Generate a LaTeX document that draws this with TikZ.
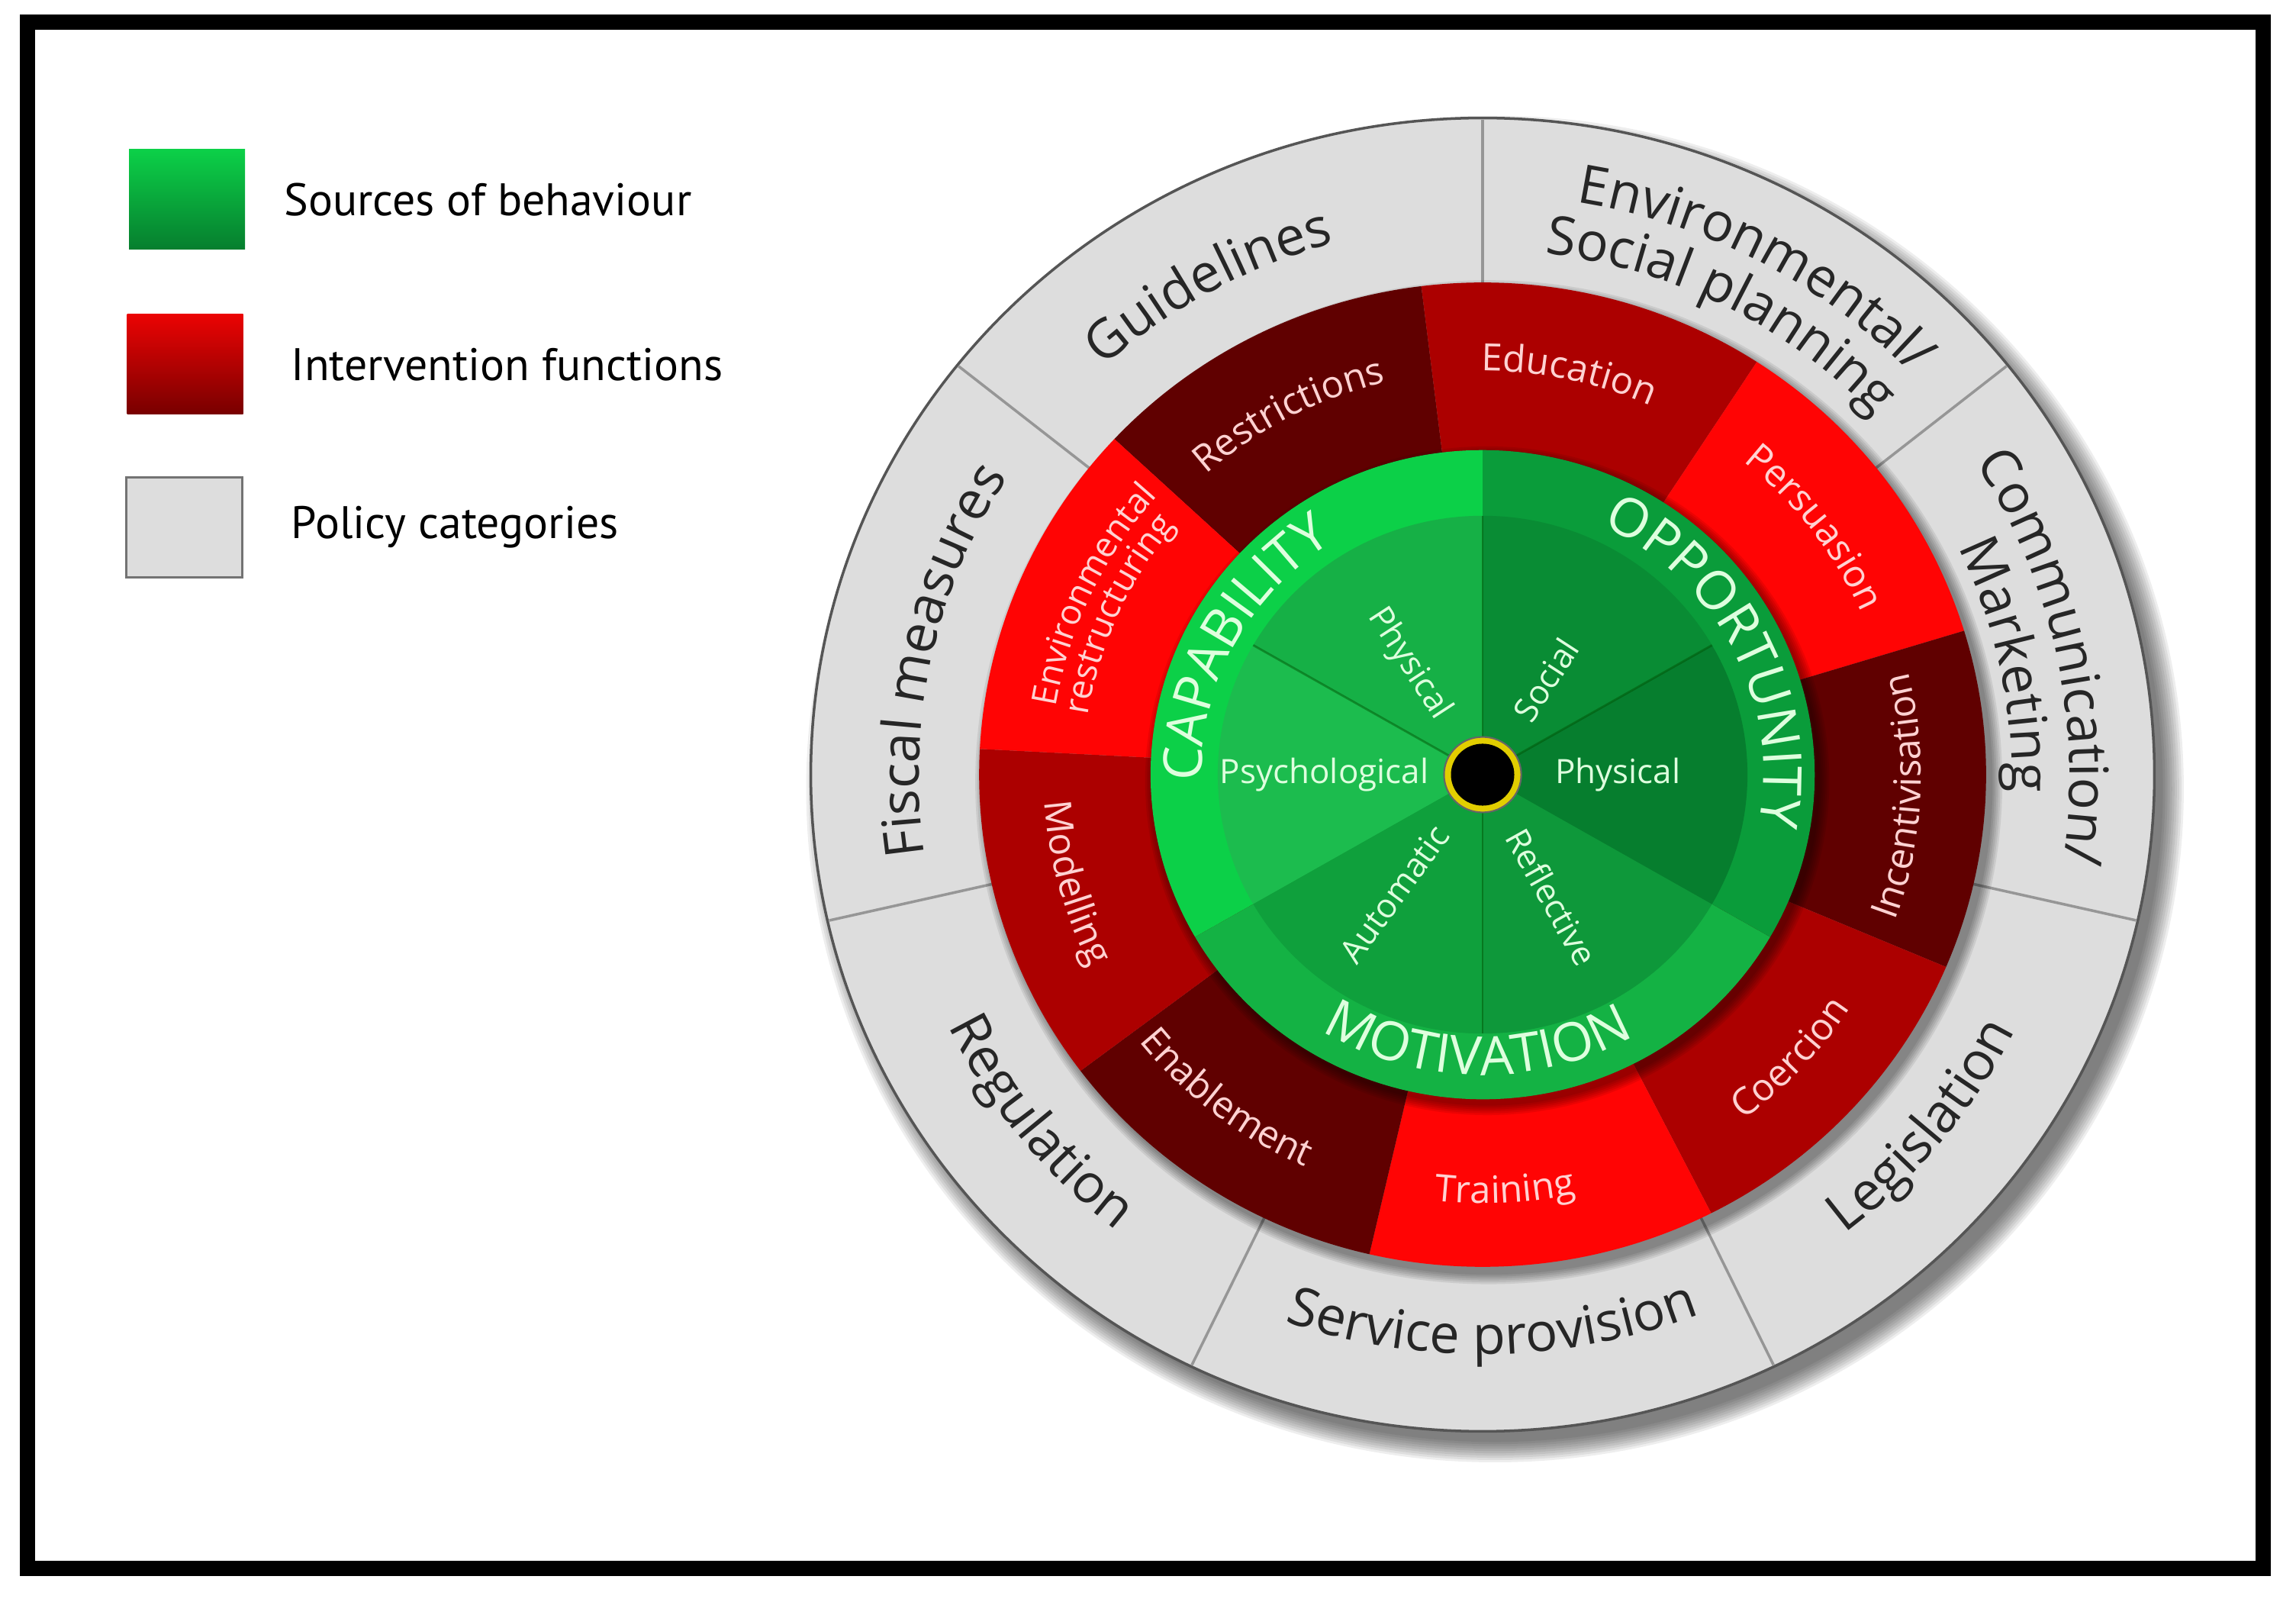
\documentclass[tikz,border=0pt]{standalone}
\usepackage{fontspec}
\setmainfont{Open Sans}
\newfontfamily\legendfamily{PT Sans}
\usetikzlibrary{positioning, decorations.text}
\definecolor{policygrey}{RGB}{221, 221, 221}
\definecolor{policyline}{RGB}{150, 150, 150}
\definecolor{policyrim}{RGB}{85, 85, 85}
\definecolor{policytext}{RGB}{38, 38, 38}
\definecolor{fndark}{RGB}{96, 0, 0}
\definecolor{fnmid}{RGB}{172, 0, 0}
\definecolor{fnbright}{RGB}{255, 4, 4}
\definecolor{fntext}{RGB}{255, 210, 210}
\definecolor{capouter}{RGB}{12, 208, 72}
\definecolor{capphys}{RGB}{22, 176, 70}
\definecolor{cappsych}{RGB}{28, 188, 78}
\definecolor{oppouter}{RGB}{10, 156, 58}
\definecolor{oppsocial}{RGB}{9, 140, 52}
\definecolor{oppphys}{RGB}{6, 126, 46}
\definecolor{motouter}{RGB}{20, 178, 68}
\definecolor{motauto}{RGB}{15, 160, 60}
\definecolor{motrefl}{RGB}{14, 152, 58}
\definecolor{srctext}{RGB}{222, 255, 222}
\definecolor{hubgold}{RGB}{226, 206, 0}
\newcommand{\policysize}{\fontsize{20}{24}\selectfont}
\newcommand{\fnsize}{\fontsize{14}{17}\selectfont}
\newcommand{\fnsmall}{\fontsize{13}{16}\selectfont}
\newcommand{\comsize}{\fontsize{20}{24}\selectfont}

\begin{document}
\begin{tikzpicture}[
      legbox/.style={minimum width=1.52cm, minimum height=1.31cm,
                     inner sep=0pt},
      legtext/.style={font=\legendfamily\fontsize{17}{20}\selectfont,
                      inner sep=0pt},
      policyarc/.style={decorate, decoration={text along path,
                        text align=center, text color=policytext,
                        text={|\policysize|#1}}},
      fnarc/.style={decorate, decoration={text along path,
                    text align=center, text color=fntext,
                    text={|\fnsize|#1}}},
      fnarcsmall/.style={decorate, decoration={text along path,
                         text align=center, text color=fntext,
                         text={|\fnsmall|#1}}},
      comarc/.style={decorate, decoration={text along path,
                     text align=center, text color=srctext,
                     text={|\comsize|#1}}},
      srclbl/.style={font=\fontsize{12.5}{15}\selectfont,
                     text=srctext, inner sep=0pt},
      innerline/.style={draw=black!70!green, opacity=0.45,
                        line width=0.8pt},
  ]
  \useasboundingbox (0,0) rectangle (30.09,20.98);
  \draw[line width=0.2cm] (0.36,0.43) rectangle (29.66,20.69);

  % legend
  \node[legbox, top color=capouter, bottom color=oppphys] (srcbox)
      at (2.45,18.365) {};
  \node[legbox, top color=fnbright!92!black, bottom color=fndark!85!red]
      (fnbox) at (2.425,16.205) {};
  \node[legbox, fill=policygrey, draw=black!55, line width=1pt]
      (polbox) at (2.415,14.07) {};
  \node[legtext, right=0.5cm of srcbox] (srctxt) {Sources of behaviour};
  \node[legtext, right=0.62cm of fnbox] (fntxt) {Intervention functions};
  \node[legtext, right=0.62cm of polbox] (poltxt) {Policy categories};

  \begin{scope}[shift={(19.43,10.83)}, xscale=1.012, yscale=0.989]
    % policy categories
    \foreach \k in {1,...,10}
      \fill[black, opacity=0.065] (0.16,-0.19) circle ({8.62+0.03*\k});
    \draw[policyrim, line width=1pt, fill=policygrey] (0,0) circle (8.7);
    \foreach \a in {0,...,6}
      \draw[policyline, line width=1pt] ({90+51.43*\a}:6.4)
          -- ({90+51.43*\a}:8.68);

    % intervention functions
    \foreach \k in {1,...,6}
      \fill[black, opacity=0.08] (0.08,-0.1) circle ({6.50+0.025*\k});
    \foreach \a/\col in {97/fndark, 57/fnmid, 17/fnbright,
                         -23/fndark, -63/fnmid, -103/fnbright,
                         -143/fndark, -183/fnmid, -223/fnbright}
      \fill[\col] (0,0) -- (\a:6.52)
          arc[start angle=\a, end angle=\a+40, radius=6.52] -- cycle;

    % sources of behaviour
    \foreach \k in {1,...,6}
      \fill[black, opacity=0.08] (0.06,-0.08) circle ({4.28+0.025*\k});
    \foreach \a/\col in {90/capouter, 210/motouter, 330/oppouter}
      \fill[\col] (0,0) -- (\a:4.30)
          arc[start angle=\a, end angle=\a+120, radius=4.30] -- cycle;
    \foreach \a/\col in {90/capphys, 150/cappsych, 210/motauto,
                         270/motrefl, 330/oppphys, 30/oppsocial}
      \fill[\col] (0,0) -- (\a:3.43)
          arc[start angle=\a, end angle=\a+60, radius=3.43] -- cycle;
    \foreach \a in {30,90,150,270}
      \draw[innerline] (0,0) -- (\a:3.43);

    % hub
    \fill[hubgold] (0,0) circle (0.5);
    \draw[black!60, line width=0.6pt] (0,0) circle (0.5);
    \fill[black] (0,0) circle (0.41);

    % policy labels
    \path[policyarc=Guidelines] (164:7.3)
        arc[start angle=164, end angle=74, radius=7.3];
    \path[policyarc=Fiscal measures] (213:7.3)
        arc[start angle=213, end angle=123, radius=7.3];
    \path[policyarc=Environmental/] (107:7.68)
        arc[start angle=107, end angle=17, radius=7.68];
    \path[policyarc=Social planning] (108:6.95)
        arc[start angle=108, end angle=18, radius=6.95];
    \path[policyarc=Communication/] (57:7.6)
        arc[start angle=57, end angle=-33, radius=7.6];
    \path[policyarc=Marketing] (57:6.85)
        arc[start angle=57, end angle=-33, radius=6.85];
    \path[policyarc=Regulation] (173.5:7.68)
        arc[start angle=173.5, end angle=263.5, radius=7.68];
    \path[policyarc=Service provision] (226:7.68)
        arc[start angle=226, end angle=316, radius=7.68];
    \path[policyarc=Legislation] (276:7.68)
        arc[start angle=276, end angle=366, radius=7.68];

    % intervention labels
    \path[fnarc=Restrictions] (163:5.35)
        arc[start angle=163, end angle=73, radius=5.35];
    \path[fnarc=Education] (123:5.35)
        arc[start angle=123, end angle=33, radius=5.35];
    \path[fnarc=Persuasion] (82:5.35)
        arc[start angle=82, end angle=-8, radius=5.35];
    \path[fnarcsmall=Environmental] (200:5.6)
        arc[start angle=200, end angle=110, radius=5.6];
    \path[fnarcsmall=restructuring] (201:5.17)
        arc[start angle=201, end angle=111, radius=5.17];
    \path[fnarc=Incentivisation] (312:5.68)
        arc[start angle=312, end angle=402, radius=5.68];
    \path[fnarc=Coercion] (272:5.68)
        arc[start angle=272, end angle=362, radius=5.68];
    \path[fnarc=Training] (228:5.68)
        arc[start angle=228, end angle=318, radius=5.68];
    \path[fnarc=Enablement] (187:5.68)
        arc[start angle=187, end angle=277, radius=5.68];
    \path[fnarc=Modelling] (150:5.68)
        arc[start angle=150, end angle=240, radius=5.68];

    % sources labels
    \path[comarc=CAPABILITY] (207:3.64)
        arc[start angle=207, end angle=97, radius=3.64];
    \path[comarc=OPPORTUNITY] (82:3.64)
        arc[start angle=82, end angle=-28, radius=3.64];
    \path[comarc=MOTIVATION] (214:3.98)
        arc[start angle=214, end angle=324, radius=3.98];

    \node[srclbl, rotate=-57] (capphyslbl) at (123:1.75) {Physical};
    \node[srclbl] (cappsychlbl) at (180:2.05) {Psychological};
    \node[srclbl, rotate=57] (oppsociallbl) at (57:1.5) {Social};
    \node[srclbl] (oppphyslbl) at (0:1.75) {Physical};
    \node[srclbl, rotate=54] (motautolbl) at (234:1.95) {Automatic};
    \node[srclbl, rotate=-61] (motrefllbl) at (299:1.85) {Reflective};
  \end{scope}
\end{tikzpicture}
\end{document}
